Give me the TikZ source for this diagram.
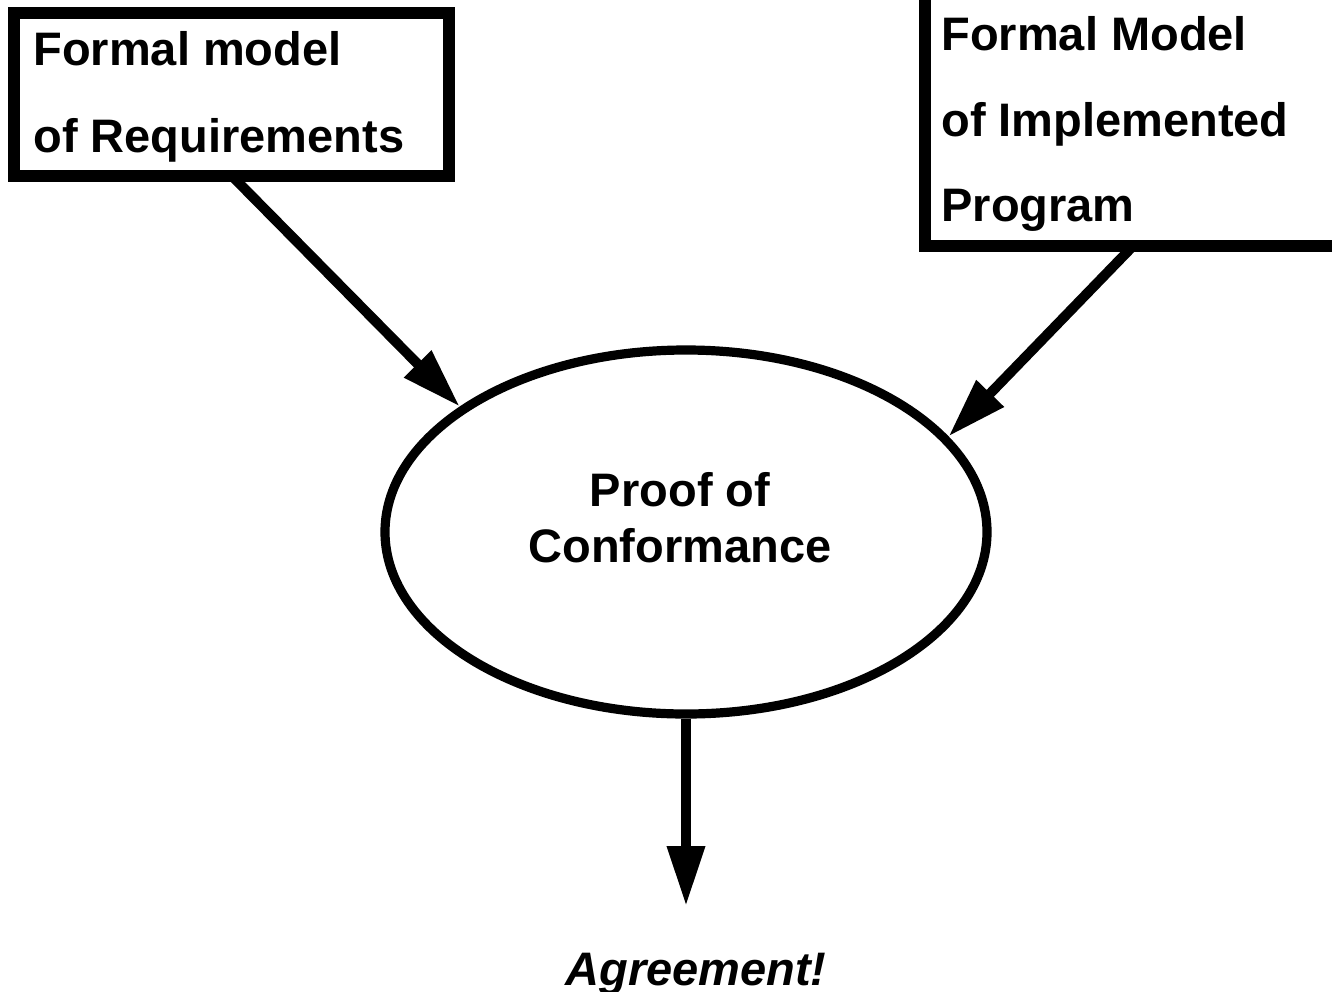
\documentclass[tikz,border=0pt]{standalone}
\usepackage{fontspec}
\setmainfont{Liberation Sans}
\usetikzlibrary{arrows.meta,shapes.geometric}
\begin{document}
\begin{tikzpicture}[x=0.5pt,y=-0.5pt,
  boxframe/.style={draw,line width=6pt,rectangle,inner sep=0pt,outer sep=0pt},
  txt/.style={inner sep=0pt,anchor=base west,font=\fontsize{23.5pt}{28pt}\selectfont\bfseries},
  arr/.style={line width=5pt,-{Triangle[length=30pt,width=18pt]}}]
\useasboundingbox (0,0) rectangle (1332,991);
\clip (0,0) rectangle (1332,991);
\fill[white] (0,0) rectangle (1332,991);
% boxes
\node[boxframe,minimum width=435pt*0.5,minimum height=163pt*0.5] (req) at (231.5,94.5) {};
\node[boxframe,minimum width=420pt*0.5,minimum height=270pt*0.5] (impl) at (1135,111) {};
% box texts
\node[txt] (r1) at (33,65) {Formal model};
\node[txt] (r2) at (33,152) {of Requirements};
\node[txt] (i1) at (941,50) {Formal Model};
\node[txt] (i2) at (941,136) {of Implemented};
\node[txt] (i3) at (941,221) {Program};
% ellipse
\node[ellipse,draw,line width=4.6pt,inner sep=0pt,minimum width=301pt,minimum height=182pt] (proof) at (686,532) {};
\node[inner sep=0pt,align=center,font=\fontsize{23.5pt}{28pt}\selectfont\bfseries] (ptxt) at (680,518) {Proof of\\Conformance};
% result
\node[txt,anchor=base,font=\fontsize{23.5pt}{28pt}\selectfont\bfseries\itshape] (agr) at (696,985) {Agreement!};
% connectors
\coordinate (rs) at (req.south -| 232,0);
\coordinate (is) at (impl.south -| 1133,0);
\coordinate (tip) at (proof.south |- 0,906);
\draw[arr] (rs) -- (proof.151.5);
\draw[arr] (is) -- (proof.20.3);
\draw[arr] (proof.south) -- (tip);
\end{tikzpicture}
\end{document}
